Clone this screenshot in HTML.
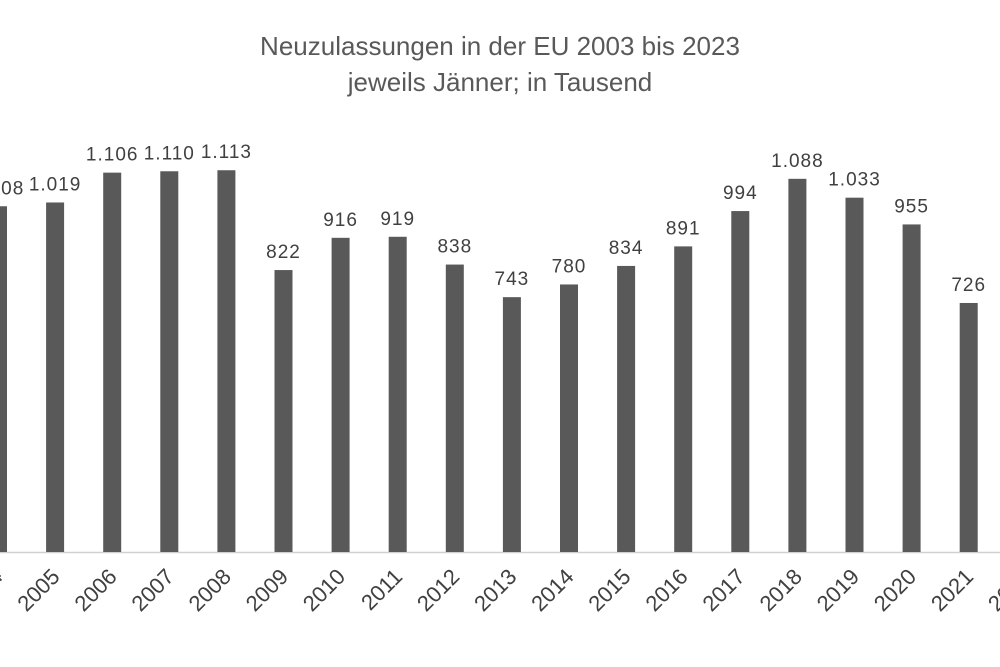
<!DOCTYPE html>
<html><head><meta charset="utf-8"><style>body{margin:0;background:#fff}svg{display:block;font-family:"Liberation Sans","DejaVu Sans",sans-serif}</style></head>
<body>
<svg id="chart" width="1000" height="667" viewBox="0 0 1000 667">
<text x="500" y="55" text-anchor="middle" font-size="26" fill="#595959">Neuzulassungen in der EU 2003 bis 2023</text>
<text x="500" y="91" text-anchor="middle" font-size="26" fill="#595959">jeweils Jänner; in Tausend</text>
<line x1="0" y1="552.5" x2="1000" y2="552.5" stroke="#d0d0d0" stroke-width="1.5"/>
<g id="bars"></g>
</svg>
<script>
const years=["2003","2004","2005","2006","2007","2008","2009","2010","2011","2012","2013","2014","2015","2016","2017","2018","2019","2020","2021","2022","2023"];
const values=[1050,1008,1019,1106,1110,1113,822,916,919,838,743,780,834,891,994,1088,1033,955,726,700,790];
const labels=["1.050","1.008","1.019","1.106","1.110","1.113","822","916","919","838","743","780","834","891","994","1.088","1.033","955","726","700","790"];
function xs(i){return -59.1+57.1*i;}
function ys(v){return 552-v*0.343;}
const g=document.getElementById('bars');
const NS="http://www.w3.org/2000/svg";
years.forEach((yr,i)=>{
  const cx=xs(i);
  const r=document.createElementNS(NS,'rect');
  
  
  r.setAttribute('x',cx-9);r.setAttribute('width',18);
  r.setAttribute('y',ys(values[i]));r.setAttribute('height',552-ys(values[i]));
  r.setAttribute('fill','#595959');g.appendChild(r);
  const t=document.createElementNS(NS,'text');
  
  
  t.setAttribute('x',cx);t.setAttribute('y',ys(values[i])-12);
  t.setAttribute('text-anchor','middle');t.setAttribute('font-size','19');
  t.setAttribute('letter-spacing','1');t.setAttribute('fill','#404040');
  t.textContent=labels[i];g.appendChild(t);
  const a=document.createElementNS(NS,'text');
  
  
  const ax=cx+6,ay=578;
  a.setAttribute('x',ax);a.setAttribute('y',ay);
  a.setAttribute('text-anchor','end');a.setAttribute('font-size','22');
  a.setAttribute('fill','#404040');
  a.setAttribute('transform','rotate(-45 '+ax+' '+ay+')');
  a.textContent=yr;g.appendChild(a);
});
</script>
</body></html>
